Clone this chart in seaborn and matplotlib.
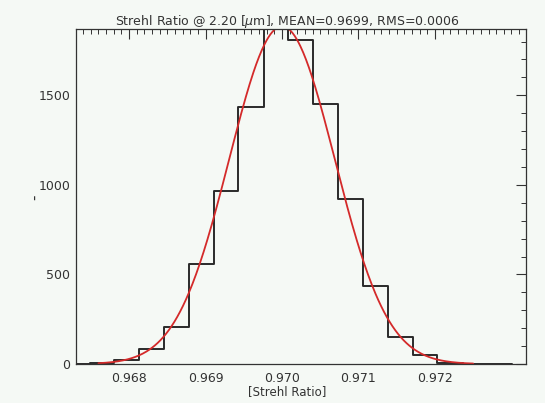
import numpy as np
import pandas as pd
import matplotlib
matplotlib.use("Agg")
import matplotlib.pyplot as plt
import seaborn as sns
from matplotlib.ticker import MultipleLocator

# ---- data ----
bin_edges = [0.96716, 0.96749, 0.96781, 0.96813, 0.96846, 0.96878, 0.96911,
             0.96943, 0.96976, 0.97008, 0.97041, 0.97073, 0.97106, 0.97138,
             0.97171, 0.97203, 0.97236, 0.97268, 0.97301]
bin_counts = [1, 4, 20, 82, 208, 557, 963, 1433, 1870, 1807, 1450, 921, 436,
              151, 50, 8, 2, 1]
# Gaussian fit parameters (red curve)
fit_amplitude = 1885.0
fit_center = 0.97000
fit_sigma = 0.00069
fit_range = [0.9676, 0.9725]

x_ticks = [0.968, 0.969, 0.970, 0.971, 0.972]
x_ticklabels = ["0.968", "0.969", "0.970", "0.971", "0.972"]
y_ticks = [0, 500, 1000, 1500]
title_text = "Strehl Ratio @ 2.20 [$\\mu$m], MEAN=0.9699, RMS=0.0006"
xlabel_text = "[Strehl Ratio]"
ylabel_text = "-"

# ---- build tables ----
centers = [(a + b) / 2 for a, b in zip(bin_edges[:-1], bin_edges[1:])]
hist_df = pd.DataFrame({"x": centers, "count": bin_counts})
xs = np.linspace(fit_range[0], fit_range[1], 400)
fit_df = pd.DataFrame({"x": xs,
                       "y": fit_amplitude * np.exp(-0.5 * ((xs - fit_center) / fit_sigma) ** 2)})

sns.set_theme(style="white")
plt.rcParams['font.family'] = ['DejaVu Sans']
bg = "#f5f9f5"
fg = "#333333"

fig = plt.figure(figsize=(5.45, 4.03), dpi=100, facecolor=bg)
ax = fig.add_axes([76 / 545, 1 - 364 / 403, (526 - 76) / 545, (364 - 29) / 403])
ax.set_facecolor(bg)

sns.histplot(data=hist_df, x="x", weights="count", bins=bin_edges,
             element="step", fill=False, color="#2a2a2a", linewidth=1.4, ax=ax)
sns.lineplot(data=fit_df, x="x", y="y", color="#d42a2a", linewidth=1.3, ax=ax)

ax.set_xlim(0.967307, 0.97319)
ax.set_ylim(0, 1870)
ax.set_xticks(x_ticks)
ax.set_xticklabels(x_ticklabels)
ax.set_yticks(y_ticks)
ax.xaxis.set_minor_locator(MultipleLocator(0.0001))
ax.yaxis.set_minor_locator(MultipleLocator(100))
ax.tick_params(which="both", direction="in", top=True, right=True,
               color=fg, labelcolor=fg, labelsize=9)
ax.tick_params(which="major", length=7, width=0.8)
ax.tick_params(axis="x", which="major", pad=6)
ax.tick_params(axis="y", which="major", pad=4)
ax.tick_params(which="minor", length=3.5, width=0.7)
for s in ax.spines.values():
    s.set_color(fg)
    s.set_linewidth(0.9)

ax.set_xlabel("")
ax.set_ylabel("")
fig.text(287 / 545, 1 - 392 / 403, xlabel_text, ha="center", va="center",
         fontsize=8.5, color=fg)
fig.text(35 / 545, 1 - 197 / 403, ylabel_text, ha="center", va="center",
         rotation=90, fontsize=11, color=fg)
fig.text(287 / 545, 1 - 21 / 403, title_text, ha="center", va="center",
         fontsize=9, color=fg)

fig.savefig("out.png", dpi=100, facecolor=bg)
